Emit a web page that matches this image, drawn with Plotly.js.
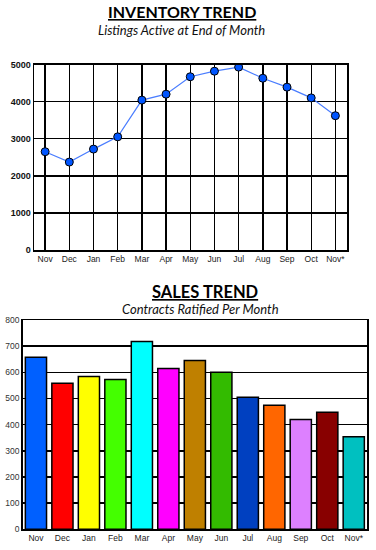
<!DOCTYPE html>
<html><head><meta charset="utf-8">
<script src="https://cdn.plot.ly/plotly-3.0.1.min.js"></script>
<style>html,body{margin:0;padding:0;background:#fff}#chart{width:376px;height:550px}</style>
</head><body><div id="chart"></div>
<script>
const months = ["Nov","Dec","Jan","Feb","Mar","Apr","May","Jun","Jul","Aug","Sep","Oct","Nov*"];
const inventory = [2650,2370,2720,3050,4040,4200,4670,4820,4930,4630,4390,4100,3620];
const sales = [658,558,584,573,718,615,645,600,505,474,420,447,354];
const barColors = ["#0060ff","#ff0000","#ffff00","#44ff00","#00ffff","#ff00ff","#bf8000","#33bb00","#0040c0","#ff6600","#dd80ff","#880000","#00c0c0"];

const W = 376, H = 550;
const px = v => v / W, py = v => 1 - v / H;

const tickFont = {family: "Arial, 'Liberation Sans', sans-serif", size: 8.5, color: "#222"};

const traces = [
  {type: "scatter", mode: "lines+markers", x: months, y: inventory, xaxis: "x", yaxis: "y",
   line: {color: "#4a7dff", width: 1.2},
   marker: {color: "#0055ff", size: 8, line: {color: "#000", width: 1}},
   hoverinfo: "skip"},
  {type: "bar", x: months, y: sales, xaxis: "x2", yaxis: "y2",
   marker: {color: barColors, line: {color: "#000", width: 1.5}},
   hoverinfo: "skip"}
];

const layout = {
  width: W, height: H, margin: {l: 0, r: 0, t: 0, b: 0},
  paper_bgcolor: "#fff", plot_bgcolor: "#fff", showlegend: false, bargap: 0.2,
  xaxis: {domain: [px(34), px(347)], type: "category", range: [-0.46, 12.48],
    showgrid: true, gridcolor: "#000", gridwidth: 1.4, showline: true, linecolor: "#000", linewidth: 1.5,
    mirror: true, ticks: "", tickfont: tickFont, anchor: "y", fixedrange: true, zeroline: false},
  yaxis: {domain: [py(250), py(64.5)], range: [0, 5000], dtick: 1000,
    showgrid: true, gridcolor: "#000", gridwidth: 1.4, showline: true, linecolor: "#000", linewidth: 1.5,
    mirror: true, ticks: "", zeroline: false, anchor: "x",
    tickfont: {family: "Arial, 'Liberation Sans', sans-serif", size: 9, color: "#111", weight: "bold"}},
  xaxis2: {domain: [px(22.7), px(367)], type: "category", range: [-0.5, 12.5],
    showgrid: false, showline: true, linecolor: "#000", linewidth: 1.5,
    mirror: true, ticks: "", tickfont: tickFont, anchor: "y2", zeroline: false},
  yaxis2: {domain: [py(529.3), py(320)], range: [0, 800], dtick: 100,
    showgrid: true, gridcolor: "#000", gridwidth: 1.4, showline: true, linecolor: "#000", linewidth: 1.5,
    mirror: true, ticks: "", zeroline: false, anchor: "x2",
    tickfont: {family: "Arial, 'Liberation Sans', sans-serif", size: 8.5, color: "#333"}},
  annotations: [
    {text: "INVENTORY TREND", xref: "paper", yref: "paper", x: px(182), y: py(11), xanchor: "center", yanchor: "middle", showarrow: false,
     font: {family: "Lato, 'Open Sans', sans-serif", size: 16, color: "#000", weight: "bold", lineposition: "under"}},
    {text: "Listings Active at End of Month", xref: "paper", yref: "paper", x: px(181), y: py(30.5), xanchor: "center", yanchor: "middle", showarrow: false,
     font: {family: "Lato, 'Open Sans', sans-serif", size: 13, color: "#111", style: "italic"}},
    {text: "SALES TREND", xref: "paper", yref: "paper", x: px(204.5), y: py(291.5), xanchor: "center", yanchor: "middle", showarrow: false,
     font: {family: "Lato, 'Open Sans', sans-serif", size: 16.5, color: "#000", weight: "bold", lineposition: "under"}},
    {text: "Contracts Ratified Per Month", xref: "paper", yref: "paper", x: px(201), y: py(308.5), xanchor: "center", yanchor: "middle", showarrow: false,
     font: {family: "Lato, 'Open Sans', sans-serif", size: 13, color: "#111", style: "italic"}}
  ]
};

Plotly.newPlot("chart", traces, layout, {staticPlot: true, displayModeBar: false});
</script></body></html>
